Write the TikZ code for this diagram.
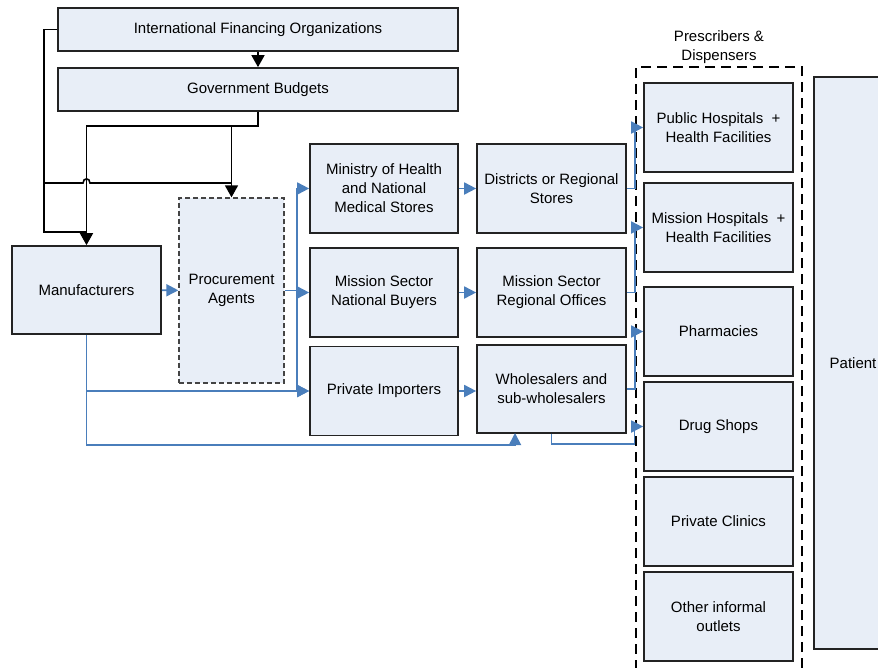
\documentclass[tikz,border=0pt]{standalone}
\usepackage{fontspec}
\setmainfont{Liberation Sans}
\usetikzlibrary{arrows.meta}
\definecolor{boxfill}{RGB}{232,238,247}
\definecolor{boxline}{RGB}{35,35,35}
\definecolor{flowblue}{RGB}{74,126,187}
\tikzset{
  box/.style={draw=boxline, fill=boxfill, line width=1.7pt, align=center,
    inner sep=0pt, font=\fontsize{15}{19}\selectfont},
  dbox/.style={box, draw=boxline!85, dash pattern=on 5pt off 3pt, line width=1.3pt},
  blk/.style={draw=black, line width=1.6pt},
  blkarrow/.style={blk, -{Triangle[length=12pt,width=13pt]}},
  blu/.style={draw=flowblue, line width=1.8pt},
  bluarrow/.style={blu, -{Triangle[length=12pt,width=12pt]}},
}
\begin{document}
\begin{tikzpicture}[x=1pt,y=-1pt]
\useasboundingbox (0,0) rectangle (878,667);
\clip (0,0) rectangle (878,667);
% dashed group
\draw[line width=1.8pt, dash pattern=on 10pt off 6pt] (802,700) -- (802,67) -- (636,67) -- (636,700);
\node[align=center, font=\fontsize{15}{19}\selectfont] (title) at (719,47) {Prescribers \&\\Dispensers};
% boxes
\node[box, minimum width=400pt, minimum height=43pt] (ifo) at (258,29.5) {International Financing Organizations};
\node[box, minimum width=400pt, minimum height=43pt] (gb) at (258,89.5) {Government Budgets};
\node[box, minimum width=149pt, minimum height=88pt] (manu) at (86.5,290) {Manufacturers};
\node[dbox, minimum width=105pt, minimum height=185pt] (proc) at (231.5,290.5) {Procurement\\Agents};
\node[box, minimum width=148pt, minimum height=89pt] (moh) at (384,188.5) {Ministry of Health\\and National\\Medical Stores};
\node[box, minimum width=148pt, minimum height=89pt] (msnb) at (384,292.5) {Mission Sector\\National Buyers};
\node[box, minimum width=148pt, minimum height=89pt] (pi) at (384,391) {Private Importers};
\node[box, minimum width=149pt, minimum height=89pt] (drs) at (551.5,188.5) {Districts or Regional\\Stores};
\node[box, minimum width=149pt, minimum height=89pt] (msro) at (551.5,292.5) {Mission Sector\\Regional Offices};
\node[box, minimum width=149pt, minimum height=88pt] (ws) at (551.5,389) {Wholesalers and\\sub-wholesalers};
\node[box, minimum width=149pt, minimum height=89pt] (phf) at (718.5,127.5) {Public Hospitals ~+\\Health Facilities};
\node[box, minimum width=149pt, minimum height=89pt] (mhf) at (718.5,227.5) {Mission Hospitals ~+\\Health Facilities};
\node[box, minimum width=149pt, minimum height=89pt] (ph) at (718.5,331.5) {Pharmacies};
\node[box, minimum width=149pt, minimum height=89pt] (ds) at (718.5,426.5) {Drug Shops};
\node[box, minimum width=149pt, minimum height=89pt] (pc) at (718.5,521.5) {Private Clinics};
\node[box, minimum width=149pt, minimum height=89pt] (oio) at (718.5,616.5) {Other informal\\outlets};
\node[box, minimum width=78pt, minimum height=572pt] (pat) at (853,363) {Patient};
% black connectors
\coordinate (lw) at (44,29.5);
\coordinate (lb) at (44,232);
\coordinate (gbj) at (231.5,125);
\coordinate (hopa) at (44,183);
\coordinate (hopb) at (83,183);
\coordinate (hopc) at (90,183);
\coordinate (hopd) at (231.5,183);
\draw[blkarrow] (ifo) -- (gb);
\draw[blk] (ifo.west) -- (lw) -- (lb) -- (lb -| manu.north);
\draw[blkarrow] (gb.south) -- ++(0,14) -| (manu.north);
\draw[blkarrow] (gbj) -- (proc.north);
\draw[blk] (hopa) -- (hopb) .. controls (83,177.5) and (90,177.5) .. (hopc) -- (hopd);
% blue connectors
\coordinate (pj) at (297,290.5);
\coordinate (wsin) at (515,433);
\coordinate (mlow) at (86.5,445);
\draw[bluarrow] (manu) -- (proc);
\draw[blu] (proc.east) -- (pj);
\draw[bluarrow] (pj) |- (moh.west);
\draw[bluarrow] (pj) |- (msnb.west);
\draw[bluarrow] (pj) |- (pi.west);
\draw[bluarrow] (manu.south) |- (pi.west);
\draw[bluarrow] (manu.south) -- (mlow) -| (wsin);
\draw[bluarrow] (moh) -- (drs);
\draw[bluarrow] (msnb) -- (msro);
\draw[bluarrow] (pi) -- (pi -| ws.west);
\draw[bluarrow] (drs.east) -- ++(8,0) |- (phf.west);
\draw[bluarrow] (msro.east) -- ++(8,0) |- (mhf.west);
\draw[bluarrow] (ws.east) -- ++(8,0) |- (ph.west);
\draw[bluarrow] (ws.south) -- ++(0,10) -- ++(83,0) |- (ds.west);
\end{tikzpicture}
\end{document}
